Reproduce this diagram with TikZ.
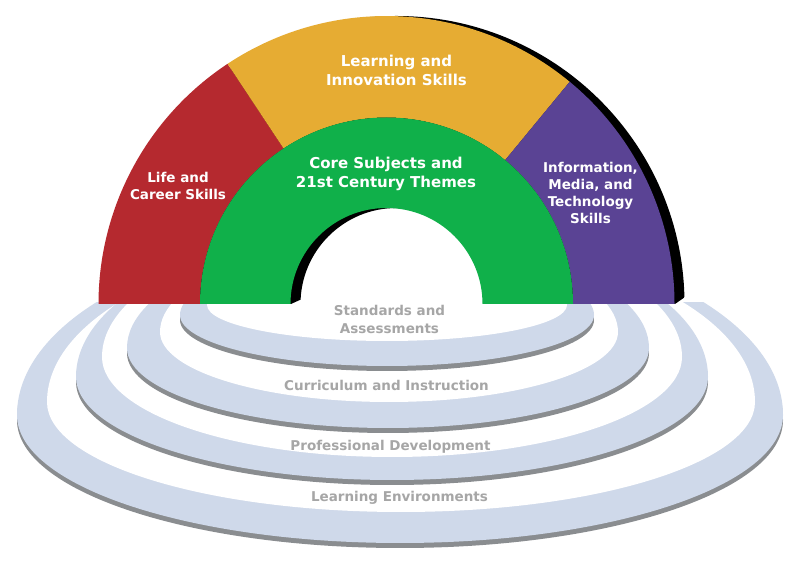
\documentclass[tikz,border=0pt]{standalone}
\usepackage{fontspec}
\setmainfont{DejaVu Sans}
\definecolor{archred}{HTML}{B5292F}
\definecolor{archyellow}{HTML}{E6AC33}
\definecolor{archgreen}{HTML}{10B04A}
\definecolor{archpurple}{HTML}{5A4394}
\definecolor{ringblue}{HTML}{CFD9EA}
\definecolor{ringshadow}{HTML}{8A8D90}
\definecolor{ringtext}{HTML}{A6A6A6}
\newcommand{\eggfill}[6]{%
  \fill[#1] (#2-#4,#3) arc[start angle=180,end angle=360,x radius=#4pt,y radius=#5pt]
    arc[start angle=0,end angle=180,x radius=#4pt,y radius=#6pt] -- cycle;}
\tikzset{
  archlbl/.style={text=white, align=center, inner sep=0pt},
  ringlbl/.style={text=ringtext, align=center, inner sep=0pt,
    font=\bfseries\fontsize{13.5}{18}\selectfont}
}
\begin{document}
\begin{tikzpicture}[x=1pt,y=1pt]
\useasboundingbox (0,0) rectangle (800,564);
\fill[white] (0,0) rectangle (800,564);
% rings
\begin{scope}
\clip (0,0) rectangle (800,261);
% ring 4
\begin{scope}[yshift=-5pt]\eggfill{ringshadow}{400}{149}{383}{128}{185}\end{scope}
\eggfill{ringblue}{400}{149}{383}{128}{185}
\eggfill{white}{401}{162}{354}{110}{165}
% ring 3
\begin{scope}[yshift=-5pt]\eggfill{ringshadow}{392}{187}{316}{103}{150}\end{scope}
\eggfill{ringblue}{392}{187}{316}{103}{150}
\eggfill{white}{392}{207}{290}{100}{130}
% ring 2
\begin{scope}[yshift=-5pt]\eggfill{ringshadow}{388}{216}{261}{80}{110}\end{scope}
\eggfill{ringblue}{388}{216}{261}{80}{110}
\eggfill{white}{389}{232}{229}{70}{90}
% ring 1
\begin{scope}[yshift=-5pt]\eggfill{ringshadow}{387}{249}{207}{51}{60}\end{scope}
\eggfill{ringblue}{387}{249}{207}{51}{60}
\eggfill{white}{387}{259}{180}{36}{40}
\end{scope}
% arch shadow
\begin{scope}
\clip (-10,574) -- (810,574) -- (810,267) -- (685,267) -- (675,260) -- (302,265) -- (291,260) -- (-10,260) -- cycle;
\fill[black, shift={(396.5,260)}] (180:288) arc[start angle=180,end angle=0,radius=288pt]
  -- (0:96) arc[start angle=0,end angle=180,radius=96pt] -- cycle;
\end{scope}
% arch sectors
\begin{scope}[shift={(386.5,260)}]
\fill[archred] (180:288) arc[start angle=180,end angle=123.5,radius=288pt]
  -- (123.5:186.5) arc[start angle=123.5,end angle=180,radius=186.5pt] -- cycle;
\fill[archyellow] (123.5:288) arc[start angle=123.5,end angle=50.5,radius=288pt]
  -- (50.5:186.5) arc[start angle=50.5,end angle=123.5,radius=186.5pt] -- cycle;
\fill[archpurple] (50.5:288) arc[start angle=50.5,end angle=0,radius=288pt]
  -- (0:186.5) arc[start angle=0,end angle=50.5,radius=186.5pt] -- cycle;
\fill[archgreen] (180:186.5) arc[start angle=180,end angle=0,radius=186.5pt]
  -- (0:96) arc[start angle=0,end angle=180,radius=96pt] -- cycle;
\end{scope}
% arch labels
\node[archlbl, font=\bfseries\fontsize{13.5}{17}\selectfont] (life) at (178,378.5) {Life and\\Career Skills};
\node[archlbl, font=\bfseries\fontsize{15}{19}\selectfont] (learn) at (396.5,493.5) {Learning and\\Innovation Skills};
\node[archlbl, font=\bfseries\fontsize{15}{19}\selectfont] (core) at (386,390.5) {Core Subjects and\\21st Century Themes};
\node[archlbl, font=\bfseries\fontsize{13.5}{17}\selectfont] (info) at (590.5,371.5) {Information,\\Media, and\\Technology\\Skills};
% ring labels
\node[ringlbl] (stand) at (389.5,245) {Standards and\\Assessments};
\node[ringlbl] (curr) at (386.5,179) {Curriculum and Instruction};
\node[ringlbl] (prof) at (390.5,117) {Professional Development};
\node[ringlbl] (env) at (399.5,66) {Learning Environments};
\end{tikzpicture}
\end{document}
